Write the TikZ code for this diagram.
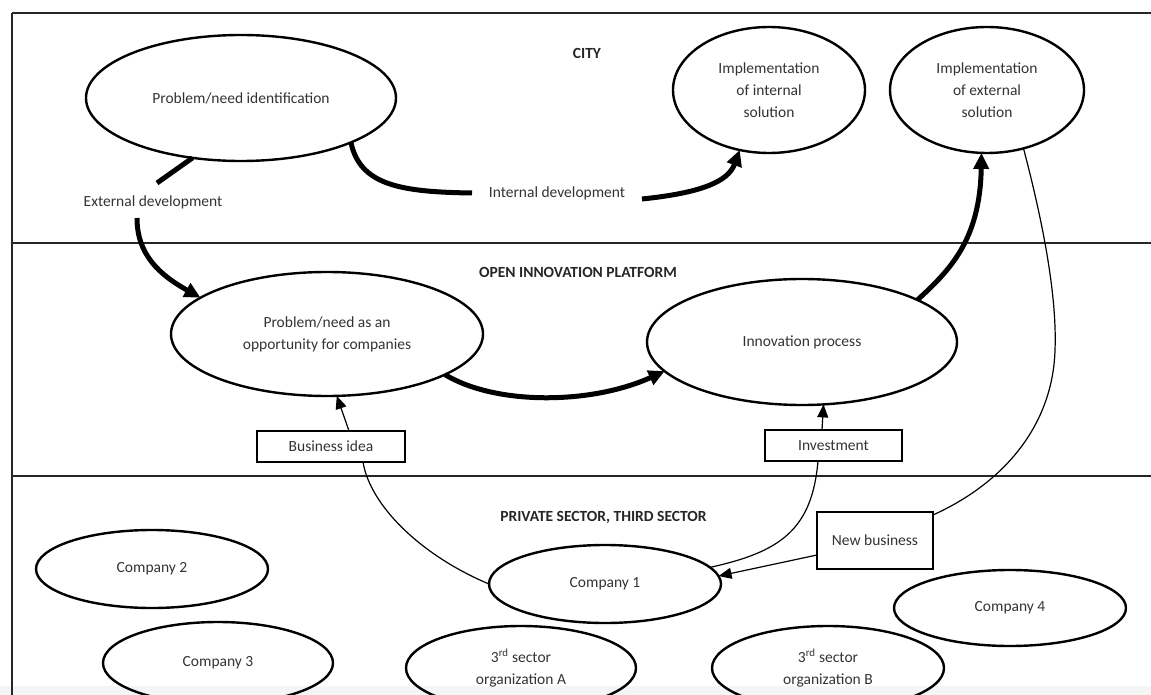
\documentclass[tikz,border=0pt]{standalone}
\usepackage{fontspec}
\setmainfont{Carlito}
\usetikzlibrary{arrows.meta,shapes.geometric}
\begin{document}
\begin{tikzpicture}[x=1pt,y=-1pt,
  txt/.style={font=\fontsize{15.5}{22}\selectfont, text=black!80, align=center, inner sep=0pt},
  hdr/.style={font=\fontsize{15.5}{22}\selectfont\bfseries, text=black!85, align=center, inner sep=0pt},
  oval/.style={ellipse, draw, line width=2.4pt, inner sep=0pt, outer sep=0pt,
    font=\fontsize{15.5}{22}\selectfont, text=black!80, align=center},
  tbox/.style={draw, line width=1.3pt, inner sep=0pt, outer sep=0pt,
    font=\fontsize{15.5}{22}\selectfont, text=black!80, align=center},
  frameline/.style={line width=2.7pt, black!85},
  bigline/.style={line width=5pt},
  bigarrow/.style={line width=5pt, -{Triangle[length=16pt,width=15pt]}},
  thinline/.style={line width=1.2pt},
  thinarrow/.style={line width=1.2pt, -{Triangle[length=13pt,width=11pt]}}
]
\useasboundingbox (0,0) rectangle (1151,695);
\clip (0,0) rectangle (1151,695);
\fill[black!4] (0,686) rectangle (1151,695);

% frame
\draw[frameline] (12,13) -- (1151,13);
\draw[frameline] (12,13) -- (12,695);
\draw[frameline] (12,243) -- (1151,243);
\draw[frameline] (12,476) -- (1151,476);

% headers
\node[hdr] (hcity) at (587,53) {CITY};
\node[hdr] (hoip) at (578,272) {OPEN INNOVATION PLATFORM};
\node[hdr] (hpriv) at (603.5,517) {PRIVATE SECTOR, THIRD SECTOR};

% ellipses
\node[oval, minimum width=310pt, minimum height=126pt] (e1) at (241,98) {Problem/need identification};
\node[oval, minimum width=192pt, minimum height=126pt] (e2) at (769,90) {Implementation\\of internal\\solution};
\node[oval, minimum width=194pt, minimum height=126pt] (e3) at (987,90) {Implementation\\of external\\solution};
\node[oval, minimum width=312pt, minimum height=124pt] (e4) at (327,334) {Problem/need as an\\opportunity for companies};
\node[oval, minimum width=310pt, minimum height=126pt] (e5) at (802,342) {Innovation process};
\node[oval, minimum width=232pt, minimum height=78pt] (c1) at (605,584) {Company 1};
\node[oval, minimum width=232pt, minimum height=78pt] (c2) at (152,569) {Company 2};
\node[oval, minimum width=230pt, minimum height=82pt] (c3) at (218,663) {Company 3};
\node[oval, minimum width=230pt, minimum height=84pt] (oa) at (521,668) {3\textsuperscript{rd} sector\\organization A};
\node[oval, minimum width=232pt, minimum height=84pt] (ob) at (828,668) {3\textsuperscript{rd} sector\\organization B};
\node[oval, minimum width=232pt, minimum height=76pt] (c4) at (1010,608) {Company 4};

% boxes
\node[tbox, minimum width=148pt, minimum height=31pt] (bi) at (331,446.5) {Business idea};
\node[tbox, minimum width=137pt, minimum height=31pt] (inv) at (833.5,445.5) {Investment};
\node[tbox, minimum width=116pt, minimum height=57pt] (nb) at (875,540.5) {New business};

% labels
\node[txt] (lext) at (153,202) {External development};
\node[txt] (lint) at (557,193) {Internal development};

\coordinate (xd1) at (157,183);
\coordinate (xd2) at (137,218);
\coordinate (id1) at (472,193);
\coordinate (id2) at (642,199);

% thick connectors
\draw[bigline] (e1.231) -- (xd1);
\draw[bigarrow] (xd2) .. controls (137,255) and (160,275) .. (e4.164);
\draw[bigline] (e1.-22) .. controls (360,185) and (400,192) .. (id1);
\draw[bigarrow] (id2) .. controls (700,193) and (728,182) .. (e2.244);
\draw[bigarrow] (e5.20) .. controls (950,270) and (980,240) .. (e3.265);
\draw[bigarrow] (e4.-19) .. controls (495,405) and (590,405) .. (e5.192);

% thin connectors
\draw[thinarrow] ([xshift=18pt]bi.north) -- (e4.279);
\draw[thinline] (c1.west) .. controls (420,555) and (370,505) .. ([xshift=32pt]bi.south);
\draw[thinarrow] ([xshift=-11.5pt]inv.north) -- (e5.289);
\draw[thinline] (c1.9) .. controls (780,552) and (812,530) .. ([xshift=-15.5pt]inv.south);
\draw[thinarrow] ([yshift=-14.5pt]nb.west) -- (c1.4);
\draw[thinline] (e3.-58) .. controls (1045,230) and (1057,300) .. (1055,350)
  .. controls (1053,420) and (1010,480) .. ([yshift=-3pt]nb.north east);
\end{tikzpicture}
\end{document}
